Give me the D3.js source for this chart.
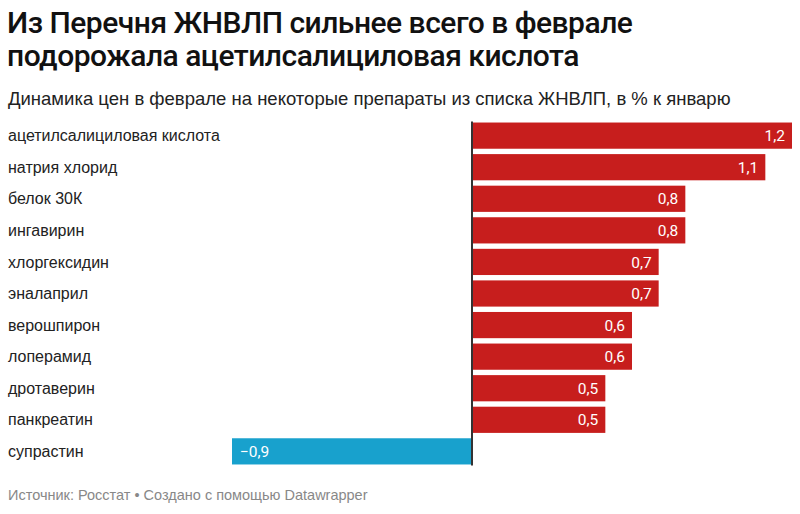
<!DOCTYPE html>
<html><head><meta charset="utf-8">
<script src="https://cdn.jsdelivr.net/npm/d3@7"></script>
<style>body{margin:0;background:#fff;} text{font-family:"Liberation Sans",Arial,sans-serif;}</style>
</head><body><svg id="c" width="800" height="514"></svg>
<script>
const categories = ["ацетилсалициловая кислота","натрия хлорид","белок 30К","ингавирин","хлоргексидин","эналаприл","верошпирон","лоперамид","дротаверин","панкреатин","супрастин"];
const values = [1.2,1.1,0.8,0.8,0.7,0.7,0.6,0.6,0.5,0.5,-0.9];
const titleLines = ["Из Перечня ЖНВЛП сильнее всего в феврале","подорожала ацетилсалициловая кислота"];
const subtitle = "Динамика цен в феврале на некоторые препараты из списка ЖНВЛП, в % к январю";
const footer = "Источник: Росстат • Создано с помощью Datawrapper";

const svg = d3.select("#c");
svg.selectAll("text.title").data(titleLines).join("text").attr("class","title")
  .attr("x",7).attr("y",(d,i)=>33+i*33).style("font-family","Roboto,sans-serif").attr("font-size",30).attr("font-weight",500)
  .attr("fill","#111").attr("letter-spacing",-0.5).text(d=>d);
svg.append("text").attr("x",8).attr("y",105).attr("font-size",18.5).attr("fill","#222").text(subtitle);

const x = d3.scaleLinear().domain([-0.9,1.2]).range([232,792]);
const y = d3.scaleBand().domain(categories).range([120,467]).paddingInner(0.17).paddingOuter(0.08);

svg.selectAll("text.lab").data(categories).join("text").attr("class","lab")
  .attr("x",8).attr("y",d=>y(d)+y.bandwidth()/2).attr("dy","0.35em")
  .attr("font-size",16).attr("fill","#222").text(d=>d);

const data = categories.map((c,i)=>({c,v:values[i]}));
svg.selectAll("rect.bar").data(data).join("rect").attr("class","bar")
  .attr("x",d=>x(Math.min(0,d.v))).attr("y",d=>y(d.c))
  .attr("width",d=>Math.abs(x(d.v)-x(0))).attr("height",y.bandwidth())
  .attr("fill",d=>d.v<0?"#18a1cd":"#c71e1d");

const fmt = v => (v<0?"\u2212":"")+Math.abs(v).toFixed(1).replace(".",",");
svg.selectAll("text.val").data(data).join("text").attr("class","val")
  .attr("x",d=>d.v<0?x(d.v)+8:x(d.v)-7).attr("text-anchor",d=>d.v<0?"start":"end")
  .attr("y",d=>y(d.c)+y.bandwidth()/2).attr("dy","0.36em")
  .style("font-family","Roboto,sans-serif").attr("font-size",15.5).attr("fill","#fff").text(d=>fmt(d.v));

svg.append("line").attr("x1",x(0)).attr("x2",x(0)).attr("y1",y(categories[0])-1).attr("y2",y(categories[10])+y.bandwidth()+1)
  .attr("stroke","#333").attr("stroke-width",2);

svg.append("text").attr("x",8).attr("y",500).attr("font-size",14.5).attr("fill","#888").text(footer);
</script></body></html>
